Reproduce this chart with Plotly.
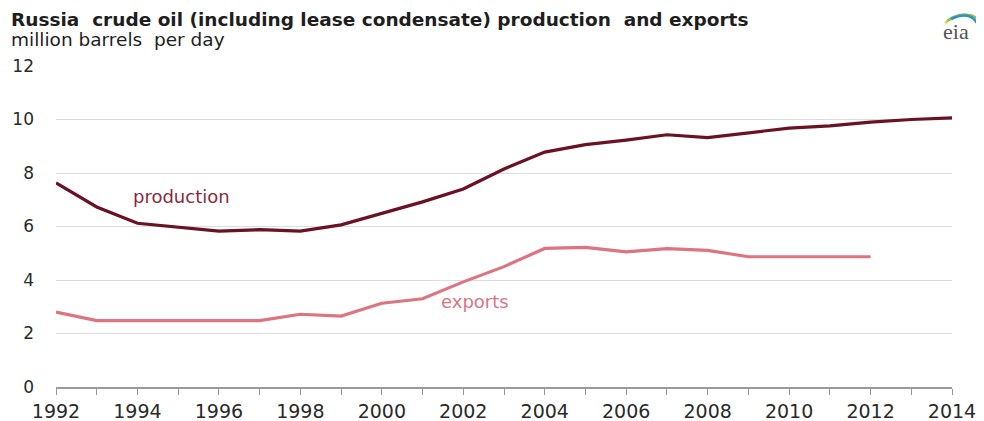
import plotly.graph_objects as go

years = list(range(1992, 2015))
production = [7.63, 6.73, 6.12, 5.98, 5.83, 5.88, 5.83, 6.06, 6.5, 6.92, 7.4, 8.15,
              8.78, 9.06, 9.23, 9.43, 9.32, 9.5, 9.68, 9.76, 9.9, 10.0, 10.06]
export_years = list(range(1992, 2013))
exports = [2.8, 2.48, 2.48, 2.48, 2.48, 2.48, 2.72, 2.65, 3.13, 3.3, 3.93, 4.5,
           5.18, 5.22, 5.05, 5.17, 5.11, 4.87, 4.87, 4.87, 4.87]

title = "Russia  crude oil (including lease condensate) production  and exports"
subtitle = "million barrels  per day"

prod_color = "#6a1224"
exp_color = "#dc7482"
font = "DejaVu Sans, Arial, sans-serif"

# page body has an 8px margin; figure is sized to fit the 984x421 window
OFF = 8
W, H = 984 - OFF, 421 - OFF
# plot area in window pixels: x 56..952, y 66..387
L, R, T, B = 56 - OFF, 984 - 952, 66 - OFF, 421 - 387
PW, PH = W - L - R, H - T - B


def px(xw):
    return (xw - OFF - L) / PW


def py(yw):
    return (H - B - (yw - OFF)) / PH


fig = go.Figure()
fig.add_trace(go.Scatter(x=years, y=production, mode="lines",
                         line=dict(color=prod_color, width=3.2), name="production"))
fig.add_trace(go.Scatter(x=export_years, y=exports, mode="lines",
                         line=dict(color=exp_color, width=3.2), name="exports"))

fig.update_layout(
    width=W, height=H,
    margin=dict(l=L, r=R, t=T, b=B, autoexpand=False),
    paper_bgcolor="white", plot_bgcolor="white",
    showlegend=False,
    font=dict(family=font, color="#333333"),
    xaxis=dict(range=[1992, 2014], tickmode="linear", tick0=1992, dtick=2,
               showgrid=False, zeroline=False, showline=True, linecolor="#999999",
               linewidth=1.5, ticks="outside", ticklen=6, tickcolor="#999999",
               tickfont=dict(size=19, color="#2a2a2a", family=font),
               minor=dict(dtick=1, ticks="outside", ticklen=6, tickcolor="#999999")),
    yaxis=dict(range=[0, 12], tickmode="linear", tick0=0, dtick=2,
               showgrid=True, gridcolor="#dddddd", gridwidth=1.2, zeroline=False,
               showline=False, ticks="", ticklabelstandoff=21,
               tickfont=dict(size=17, color="#2a2a2a", family=font)),
)

fig.add_annotation(text="<b>" + title + "</b>", xref="paper", yref="paper",
                   x=px(9), y=py(19), xanchor="left", yanchor="middle",
                   showarrow=False, font=dict(size=18.5, color="#1e1e1e", family=font))
fig.add_annotation(text=subtitle, xref="paper", yref="paper",
                   x=px(9), y=py(40), xanchor="left", yanchor="middle",
                   showarrow=False, font=dict(size=18.5, color="#1e1e1e", family=font))

fig.add_annotation(text="production", x=1995.07, y=7.14, showarrow=False,
                   font=dict(size=18, color="#8a2a3e", family=font))
fig.add_annotation(text="exports", x=2002.3, y=3.18, showarrow=False,
                   font=dict(size=18, color=exp_color, family=font))

# eia logo
fig.add_annotation(text="eia", xref="paper", yref="paper", x=px(956), y=py(31),
                   xanchor="center", yanchor="middle", showarrow=False,
                   font=dict(size=22, color="#555555", family="Liberation Serif, serif"))
arcs = [("#f2d24a", (945, 23), (958, 12), (974, 16)),
        ("#8cc63f", (947, 21), (962, 10), (977, 18)),
        ("#2b8fd0", (951, 19), (972, 9), (979, 27))]
for col, p0, p1, p2 in arcs:
    fig.add_shape(type="path", xref="paper", yref="paper",
                  path="M %f %f Q %f %f %f %f" % (px(p0[0]), py(p0[1]), px(p1[0]), py(p1[1]),
                                                  px(p2[0]), py(p2[1])),
                  line=dict(color=col, width=2.5))

fig.write_html("out.html")
